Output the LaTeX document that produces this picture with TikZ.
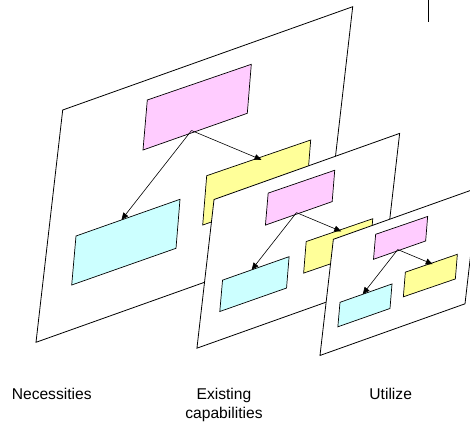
\documentclass[tikz,border=0pt]{standalone}
\usepackage{fontspec}
\setmainfont{Liberation Sans}
\usetikzlibrary{arrows.meta}
\definecolor{pinkc}{HTML}{FFCCFF}
\definecolor{cyanc}{HTML}{CCFFFF}
\definecolor{yellowc}{HTML}{FFFF99}
\tikzset{
  planebox/.style={draw=black, fill=white, line width=0.8pt, line join=miter},
  pinkbox/.style={draw=black, fill=pinkc, line width=0.7pt},
  cyanbox/.style={draw=black, fill=cyanc, line width=0.7pt},
  yellowbox/.style={draw=black, fill=yellowc, line width=0.7pt},
  link/.style={-{Triangle[length=7pt,width=6pt]}, line width=0.6pt},
  caption/.style={font=\fontsize{15.6}{19.3}\selectfont, anchor=base, inner sep=0pt}
}
\newcommand\drawlayer[1]{%
  \draw[planebox] (62.7,110) -- (352.7,6.7) -- (326,239) -- (36,342.3) -- cycle;
  \draw[pinkbox] (147.3,100) -- (251.3,64.3) -- (247.3,113.3) -- (143,150) -- cycle;
  \draw[cyanbox] (76,236) -- (180,199.3) -- (176,248.3) -- (71.7,285) -- cycle;
  \draw[yellowbox] (206.7,175.7) -- (310.7,140) -- (306.7,189.3) -- (202.7,225) -- cycle;
  \coordinate (#1-src) at (191.5,130.5);
  \coordinate (#1-need) at (121.5,219.8);
  \coordinate (#1-have) at (261.5,159.8);
  \draw[link] (#1-src) -- (#1-need);
  \draw[link] (#1-src) -- (#1-have);
}
\begin{document}
\begin{tikzpicture}[x=1pt,y=-1pt]
  \useasboundingbox (0,0) rectangle (470,423);
  \clip (0,0) rectangle (470,423);
  \begin{scope}
    \drawlayer{nec}
  \end{scope}
  \begin{scope}[shift={(173.9,129.1)}, scale=0.64]
    \drawlayer{exi}
  \end{scope}
  \begin{scope}[shift={(302,184.3)}, scale=0.5]
    \drawlayer{uti}
  \end{scope}
  \coordinate (tickTop) at (428.3,0);
  \coordinate (tickBot) at (428.3,21.7);
  \draw[line width=0.8pt] (tickTop) -- (tickBot);
  \node[caption] (necLabel) at (51.7,399) {Necessities};
  \node[caption] (exiLabelA) at (224,399) {Existing};
  \node[caption] (exiLabelB) at (224,418.3) {capabilities};
  \node[caption] (utiLabel) at (390.7,399) {Utilize};
\end{tikzpicture}
\end{document}
